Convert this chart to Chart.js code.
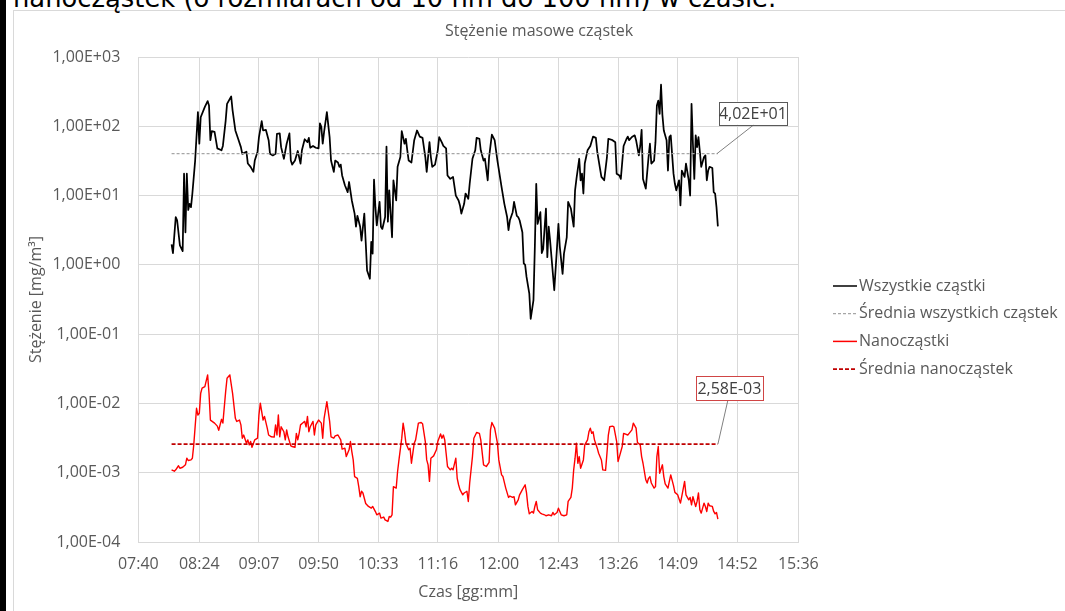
<!DOCTYPE html>
<html lang="pl">
<head>
<meta charset="utf-8">
<title>Stężenie masowe cząstek</title>
<script src="https://cdn.jsdelivr.net/npm/chart.js@4.4.1/dist/chart.umd.min.js"></script>
<style>
  html, body { margin: 0; padding: 0; background: #fff; width: 1065px; height: 611px; overflow: hidden; }
  #bar { position: absolute; left: 0; top: 0; width: 6px; height: 611px; background: #000; }
  #frame { position: absolute; left: 13px; top: 10px; right: 0; bottom: 0; border-left: 1px solid #d9d9d9; border-top: 1px solid #d9d9d9; }
  #heading { position: absolute; left: 13px; top: -15px; font: 25.8px/26px "DejaVu Sans", sans-serif; color: #000; white-space: nowrap; }
  #wrap { position: absolute; left: 0; top: 0; width: 1065px; height: 611px; }
</style>
</head>
<body>
<div id="bar"></div>
<div id="frame"></div>
<div id="heading">nanocząstek (o rozmiarach od 10 nm do 100 nm) w czasie.</div>
<div id="wrap"><canvas id="chart" width="1065" height="611"></canvas></div>
<script>
// Stężenie masowe cząstek – wszystkie cząstki vs nanocząstki (skala log)
const chartTitle = "Stężenie masowe cząstek";
const xTitle = "Czas [gg:mm]";
const yTitle = "Stężenie [mg/m³]";
const seriesNames = ["Wszystkie cząstki", "Średnia wszystkich cząstek", "Nanocząstki", "Średnia nanocząstek"];

const xTickLabels = ["07:40", "08:24", "09:07", "09:50", "10:33", "11:16", "12:00", "12:43", "13:26", "14:09", "14:52", "15:36"];
const yTickValues = [1e-4, 1e-3, 1e-2, 1e-1, 1e0, 1e1, 1e2, 1e3];

const avgAll = 40.2;
const avgNano = 2.58e-3;

// wszystkie cząstki [mg/m3]
const timesAll = [
  "08:04","08:05","08:07","08:08","08:10","08:12","08:13","08:14","08:15","08:16",
  "08:17","08:18","08:19","08:21","08:23","08:24","08:25","08:28","08:30","08:31",
  "08:32","08:33","08:35","08:36","08:37","08:40","08:41","08:43","08:44","08:47",
  "08:48","08:50","08:52","08:54","08:55","08:58","08:59","09:01","09:03","09:04",
  "09:06","09:07","09:09","09:10","09:12","09:14","09:15","09:17","09:19","09:20",
  "09:22","09:23","09:25","09:27","09:29","09:30","09:31","09:33","09:35","09:37",
  "09:38","09:40","09:42","09:43","09:44","09:46","09:48","09:50","09:51","09:52",
  "09:53","09:54","09:56","09:58","09:59","10:01","10:02","10:04","10:05","10:06",
  "10:07","10:09","10:11","10:12","10:14","10:16","10:17","10:18","10:20","10:21",
  "10:23","10:24","10:25","10:27","10:28","10:29","10:30","10:31","10:32","10:34",
  "10:35","10:36","10:38","10:39","10:40","10:41","10:43","10:44","10:46","10:47",
  "10:49","10:50","10:52","10:53","10:54","10:55","10:57","10:59","11:01","11:03",
  "11:05","11:07","11:08","11:10","11:11","11:12","11:14","11:16","11:17","11:19",
  "11:20","11:22","11:23","11:25","11:27","11:29","11:31","11:32","11:33","11:35",
  "11:36","11:38","11:39","11:41","11:43","11:44","11:46","11:47","11:49","11:50",
  "11:52","11:53","11:55","11:57","11:59","12:02","12:04","12:06","12:07","12:08",
  "12:10","12:11","12:13","12:14","12:15","12:17","12:18","12:19","12:20","12:22",
  "12:23","12:25","12:26","12:27","12:28","12:30","12:31","12:32","12:34","12:35",
  "12:36","12:37","12:38","12:40","12:42","12:43","12:44","12:46","12:47","12:49",
  "12:50","12:52","12:54","12:55","12:56","12:58","12:59","13:00","13:01","13:02",
  "13:04","13:06","13:08","13:10","13:11","13:13","13:14","13:16","13:18","13:19",
  "13:22","13:24","13:25","13:27","13:28","13:30","13:32","13:33","13:34","13:36",
  "13:38","13:39","13:41","13:42","13:43","13:44","13:46","13:48","13:49","13:50",
  "13:52","13:53","13:54","13:55","13:56","13:57","13:58","13:59","14:01","14:02",
  "14:03","14:04","14:06","14:07","14:08","14:10","14:11","14:12","14:14","14:15",
  "14:17","14:18","14:19","14:20","14:21","14:22","14:23","14:24","14:25","14:26",
  "14:28","14:29","14:30","14:31","14:32","14:34","14:35","14:36","14:37","14:38"
];
const valuesAll = [
  1.98, 1.48, 4.9, 4.4, 1.91, 1.58, 20.7, 2.95, 20.7, 6.2,
  7.6, 6.8, 10.7, 32, 160, 56, 135, 191, 231, 200,
  63, 85, 83, 63, 48, 45, 52, 120, 211, 269,
  170, 87, 66, 50, 40, 43, 29, 26, 22, 32,
  43, 69, 119, 87, 89, 63, 40, 38, 40, 78,
  79, 50, 34, 56, 79, 32, 28, 32, 44, 29,
  45, 65, 59, 68, 49, 52, 49, 48, 110, 98,
  56, 83, 160, 69, 32, 22, 32, 30, 26, 28,
  19.5, 14.1, 11.2, 15.7, 8.5, 5.5, 3.55, 5.1, 3.55, 2.24,
  5.5, 2.14, 0.83, 0.63, 2.14, 1.45, 17, 6.8, 3.7, 8.1,
  3.55, 3.3, 4.9, 51, 4.2, 11.9, 2.5, 16.6, 8.5, 26,
  36, 85, 56, 66, 45, 32, 30, 63, 87, 71,
  68, 36, 22, 59, 36, 26, 28, 45, 70, 58,
  52, 48, 19.5, 17.4, 18.6, 10, 8.5, 7.2, 5.5, 7.6,
  10.7, 9.0, 14.8, 34, 45, 68, 66, 45, 32, 34,
  16.6, 36, 76, 63, 32, 13.2, 7.6, 4.9, 3.16, 4.4,
  5.75, 8.1, 5.1, 4.9, 4.4, 2.95, 1.05, 1.0, 0.67, 0.385,
  0.166, 0.31, 1.82, 14.8, 3.9, 5.75, 1.48, 1.7, 6.5, 1.29,
  3.55, 2.24, 1.29, 0.43, 1.82, 3.9, 1.82, 0.74, 1.45, 2.5,
  8.1, 6.5, 3.55, 11.9, 17.4, 34, 16.6, 20.7, 10.7, 29,
  45, 52, 71, 68, 43, 24.5, 18.6, 16.6, 36, 66,
  63, 59, 20.7, 19.5, 17.4, 52, 65, 71, 63, 70,
  74, 63, 38, 52, 89, 17.4, 12.6, 36, 56, 29,
  32, 59, 200, 234, 151, 398, 145, 87, 63, 23,
  70, 74, 20.7, 14.8, 11.9, 16.6, 7.2, 23, 18.6, 29,
  16.6, 10, 211, 56, 17.4, 74, 50, 70, 43, 26,
  36, 38, 16.6, 23, 26, 25, 11.2, 10.7, 6.8, 3.6
];

// nanocząstki [mg/m3]
const timesNano = [
  "08:04","08:06","08:07","08:09","08:10","08:12","08:14","08:15","08:16","08:18",
  "08:19","08:20","08:22","08:23","08:24","08:25","08:26","08:28","08:30","08:31",
  "08:32","08:35","08:37","08:38","08:40","08:41","08:43","08:44","08:46","08:48",
  "08:50","08:51","08:53","08:54","08:55","08:56","08:58","08:59","09:00","09:01",
  "09:02","09:04","09:06","09:07","09:08","09:10","09:11","09:13","09:14","09:16",
  "09:18","09:19","09:20","09:21","09:22","09:23","09:25","09:26","09:27","09:28",
  "09:30","09:31","09:33","09:34","09:35","09:36","09:37","09:39","09:40","09:41",
  "09:42","09:43","09:44","09:46","09:47","09:48","09:50","09:52","09:53","09:54",
  "09:56","09:58","09:59","10:01","10:02","10:04","10:06","10:07","10:09","10:10",
  "10:12","10:13","10:14","10:15","10:16","10:18","10:19","10:20","10:21","10:22",
  "10:24","10:26","10:28","10:29","10:31","10:32","10:34","10:35","10:37","10:38",
  "10:40","10:41","10:42","10:43","10:44","10:46","10:47","10:48","10:50","10:51",
  "10:52","10:53","10:55","10:56","10:57","10:59","11:00","11:02","11:04","11:05",
  "11:07","11:08","11:09","11:10","11:11","11:13","11:15","11:16","11:18","11:19",
  "11:20","11:21","11:22","11:23","11:25","11:26","11:27","11:29","11:30","11:31",
  "11:32","11:34","11:35","11:37","11:38","11:39","11:41","11:42","11:44","11:46",
  "11:47","11:49","11:51","11:53","11:54","11:55","11:57","11:59","12:00","12:02",
  "12:03","12:05","12:07","12:08","12:10","12:11","12:12","12:14","12:15","12:17",
  "12:19","12:20","12:21","12:22","12:24","12:25","12:26","12:27","12:28","12:30",
  "12:31","12:33","12:34","12:36","12:38","12:39","12:40","12:42","12:43","12:45",
  "12:47","12:49","12:50","12:52","12:53","12:54","12:55","12:56","12:57","12:58",
  "12:59","13:01","13:02","13:04","13:05","13:06","13:07","13:08","13:09","13:11",
  "13:12","13:14","13:15","13:17","13:18","13:19","13:20","13:22","13:23","13:25",
  "13:26","13:27","13:29","13:30","13:31","13:33","13:34","13:36","13:37","13:39",
  "13:40","13:42","13:43","13:44","13:46","13:47","13:48","13:49","13:50","13:52",
  "13:53","13:54","13:55","13:56","13:58","13:59","14:00","14:02","14:03","14:04",
  "14:06","14:07","14:09","14:11","14:12","14:14","14:15","14:17","14:18","14:19",
  "14:20","14:22","14:23","14:24","14:25","14:26","14:28","14:29","14:30","14:31",
  "14:32","14:34","14:35","14:36","14:37","14:38"
];
const valuesNano = [
  1.10e-3, 1.05e-3, 1.10e-3, 1.26e-3, 1.16e-3, 1.20e-3, 1.30e-3, 1.62e-3, 1.50e-3, 1.53e-3,
  1.62e-3, 2.52e-3, 8.5e-3, 6.8e-3, 7.2e-3, 1.40e-2, 1.66e-2, 1.75e-2, 2.58e-2, 1.40e-2,
  5.75e-3, 5.2e-3, 4.7e-3, 4.1e-3, 5.9e-3, 5.2e-3, 1.48e-2, 2.31e-2, 2.58e-2, 1.40e-2,
  6.1e-3, 5.5e-3, 5.75e-3, 4.9e-3, 3.15e-3, 3.5e-3, 2.67e-3, 2.98e-3, 2.52e-3, 2.82e-3,
  2.33e-3, 2.98e-3, 3.15e-3, 6.8e-3, 1.01e-2, 5.75e-3, 6.5e-3, 4.4e-3, 3.5e-3, 3.3e-3,
  3.26e-3, 4.9e-3, 3.5e-3, 6.8e-3, 3.3e-3, 4.6e-3, 3.9e-3, 2.98e-3, 4.15e-3, 3.3e-3,
  2.44e-3, 2.39e-3, 2.33e-3, 3.7e-3, 2.98e-3, 3.7e-3, 4.9e-3, 5.3e-3, 5.5e-3, 4.6e-3,
  6.5e-3, 3.9e-3, 4.6e-3, 5.5e-3, 3.5e-3, 4.9e-3, 5.75e-3, 5.2e-3, 3.15e-3, 6.1e-3,
  1.06e-2, 5.5e-3, 3.3e-3, 3.15e-3, 3.4e-3, 3.5e-3, 2.98e-3, 2.19e-3, 2.26e-3, 1.71e-3,
  2.14e-3, 2.82e-3, 2.02e-3, 1.53e-3, 8.8e-4, 8.3e-4, 6.3e-4, 4.5e-4, 5.4e-4, 5.1e-4,
  3.6e-4, 3.26e-4, 3.08e-4, 3.26e-4, 2.75e-4, 2.47e-4, 2.61e-4, 2.21e-4, 2.29e-4, 2.09e-4,
  1.98e-4, 2.33e-4, 2.29e-4, 2.47e-4, 6.3e-4, 6.0e-4, 1.04e-3, 1.53e-3, 3.15e-3, 5.2e-3,
  3.9e-3, 2.67e-3, 2.14e-3, 2.26e-3, 1.37e-3, 2.67e-3, 2.98e-3, 5.2e-3, 5.3e-3, 5.1e-3,
  2.82e-3, 1.53e-3, 1.30e-3, 7.5e-4, 1.62e-3, 1.75e-3, 2.14e-3, 2.82e-3, 3.63e-3, 3.15e-3,
  3.5e-3, 2.98e-3, 1.91e-3, 1.23e-3, 1.10e-3, 1.16e-3, 1.10e-3, 1.62e-3, 8.3e-4, 6.7e-4,
  5.7e-4, 4.8e-4, 5.1e-4, 5.4e-4, 3.85e-4, 7.1e-4, 1.71e-3, 3.15e-3, 3.8e-3, 3.7e-3,
  2.98e-3, 1.30e-3, 1.23e-3, 1.41e-3, 4.15e-3, 5.3e-3, 4.4e-3, 2.67e-3, 1.53e-3, 9.3e-4,
  8.8e-4, 6.0e-4, 4.4e-4, 4.6e-4, 4.4e-4, 4.5e-4, 3.44e-4, 4.06e-4, 4.8e-4, 5.7e-4,
  6.7e-4, 5.1e-4, 3.26e-4, 2.55e-4, 2.75e-4, 2.61e-4, 3.26e-4, 3.85e-4, 2.92e-4, 2.61e-4,
  2.55e-4, 2.47e-4, 2.39e-4, 2.47e-4, 2.39e-4, 2.67e-4, 2.47e-4, 2.67e-4, 3.08e-4, 2.47e-4,
  2.39e-4, 2.47e-4, 3.85e-4, 4.4e-4, 6.0e-4, 1.10e-3, 1.62e-3, 2.67e-3, 1.37e-3, 1.71e-3,
  1.16e-3, 1.53e-3, 2.52e-3, 2.98e-3, 3.9e-3, 4.4e-3, 3.7e-3, 3.9e-3, 2.98e-3, 2.26e-3,
  1.91e-3, 1.53e-3, 1.10e-3, 1.08e-3, 1.91e-3, 3.5e-3, 4.6e-3, 4.7e-3, 4.6e-3, 2.82e-3,
  1.45e-3, 1.71e-3, 2.39e-3, 3.7e-3, 3.63e-3, 3.5e-3, 3.7e-3, 4.15e-3, 5.2e-3, 4.4e-3,
  2.73e-3, 2.52e-3, 1.71e-3, 1.37e-3, 7.9e-4, 7.1e-4, 8.3e-4, 8.8e-4, 7.1e-4, 6.0e-4,
  6.3e-4, 1.71e-3, 2.39e-3, 9.8e-4, 1.30e-3, 8.8e-4, 6.9e-4, 6.0e-4, 7.5e-4, 9.3e-4,
  6.5e-4, 5.2e-4, 4.8e-4, 3.64e-4, 4.6e-4, 7.5e-4, 4.8e-4, 4.06e-4, 4.4e-4, 3.44e-4,
  4.5e-4, 3.26e-4, 3.85e-4, 5.1e-4, 2.92e-4, 2.61e-4, 3.64e-4, 3.26e-4, 2.76e-4, 3.64e-4,
  3.33e-4, 3.26e-4, 2.76e-4, 2.55e-4, 2.67e-4, 2.14e-4
];

if (timesAll.length !== valuesAll.length || timesNano.length !== valuesNano.length) {
  throw new Error("length mismatch: " + timesAll.length + "/" + valuesAll.length + " " + timesNano.length + "/" + valuesNano.length);
}

// "hh:mm" -> minuty od północy
function toMin(t) {
  const p = t.split(":");
  return Number(p[0]) * 60 + Number(p[1]);
}

// format jak w Excelu: 4,02E+01
function excelSci(v) {
  const e = Math.floor(Math.log10(v) + 1e-9);
  const m = v / Math.pow(10, e);
  return m.toFixed(2).replace(".", ",") + "E" + (e < 0 ? "-" : "+") + String(Math.abs(e)).padStart(2, "0");
}

function toPoints(times, values) {
  return times.map((t, i) => ({ x: toMin(t), y: values[i] }));
}

function avgLine(times, v) {
  return [{ x: toMin(times[0]), y: v }, { x: toMin(times[times.length - 1]), y: v }];
}

const legendItems = [
  { color: "#000000", dash: [], width: 1.5 },
  { color: "#a6a6a6", dash: [3, 2], width: 1.25 },
  { color: "#ff0000", dash: [], width: 1.5 },
  { color: "#c00000", dash: [4, 2], width: 1.75 }
];

function drawCallout(ctx, ax, ay, text, bx, by, w, h, border, lx) {
  ctx.setLineDash([]);
  ctx.lineWidth = 1;
  ctx.strokeStyle = "#808080";
  ctx.beginPath();
  ctx.moveTo(lx, by + h);
  ctx.lineTo(ax, ay);
  ctx.stroke();
  ctx.fillStyle = "#ffffff";
  ctx.fillRect(bx, by, w, h);
  ctx.strokeStyle = border;
  ctx.strokeRect(Math.round(bx) + 0.5, Math.round(by) + 0.5, w, h);
  ctx.fillStyle = "#404040";
  ctx.textAlign = "center";
  ctx.textBaseline = "middle";
  ctx.fillText(text, bx + w / 2, by + h / 2 + 1);
}

const extras = {
  id: "extras",
  afterDatasetsDraw(chart) {
    const { ctx } = chart;
    const xs = chart.scales.x;
    const ys = chart.scales.y;
    ctx.save();

    // title
    ctx.font = '16px "Open Sans"';
    ctx.fillStyle = "#595959";
    ctx.textAlign = "center";
    ctx.textBaseline = "middle";
    ctx.fillText(chartTitle, 539, 31);

    // legend
    ctx.textAlign = "left";
    legendItems.forEach((it, i) => {
      const ly = 286 + i * 27.7;
      ctx.strokeStyle = it.color;
      ctx.lineWidth = it.width;
      ctx.setLineDash(it.dash);
      ctx.beginPath();
      ctx.moveTo(833, ly);
      ctx.lineTo(857, ly);
      ctx.stroke();
      ctx.fillStyle = "#595959";
      ctx.fillText(seriesNames[i], 859, ly);
    });

    // data labels on the averages
    const endAll = xs.getPixelForValue(toMin(timesAll[timesAll.length - 1]));
    const yAll = ys.getPixelForValue(avgAll);
    drawCallout(ctx, endAll - 1, yAll, excelSci(avgAll), endAll + 1, yAll - 52, 68, 23, "#595959", endAll + 36);

    const endNano = xs.getPixelForValue(toMin(timesNano[timesNano.length - 1]));
    const yNano = ys.getPixelForValue(avgNano);
    drawCallout(ctx, endNano, yNano, excelSci(avgNano), endNano - 22, yNano - 68, 67, 24, "#d04545", endNano + 10);

    ctx.restore();
  }
};

const tickFont = { family: "Open Sans", size: 16 };

new Chart(document.getElementById("chart").getContext("2d"), {
  type: "line",
  data: {
    datasets: [
      {
        label: seriesNames[1],
        data: avgLine(timesAll, avgAll),
        borderColor: "#a6a6a6",
        borderWidth: 1.25,
        borderDash: [3, 2],
        order: 0,
      },
      {
        label: seriesNames[3],
        data: avgLine(timesNano, avgNano),
        borderColor: "#c00000",
        borderWidth: 1.75,
        borderDash: [4, 2],
        order: 0,
      },
      {
        label: seriesNames[0],
        data: toPoints(timesAll, valuesAll),
        borderColor: "#000000",
        borderWidth: 1.75,
        order: 1,
      },
      {
        label: seriesNames[2],
        data: toPoints(timesNano, valuesNano),
        borderColor: "#ff0000",
        borderWidth: 1.4,
        order: 1,
      },
    ],
  },
  options: {
    responsive: false,
    animation: false,
    layout: { padding: { left: 13, top: 57, right: 266.7, bottom: 0 } },
    elements: {
      point: { radius: 0, hoverRadius: 0 },
      line: { tension: 0, borderJoinStyle: "round", fill: false },
    },
    plugins: {
      legend: { display: false },
      tooltip: { enabled: false },
      title: { display: false },
    },
    scales: {
      x: {
        type: "linear",
        min: toMin(xTickLabels[0]),
        max: toMin(xTickLabels[xTickLabels.length - 1]),
        afterBuildTicks: (scale) => {
          scale.ticks = xTickLabels.map((l) => ({ value: toMin(l) }));
        },
        afterFit: (scale) => { scale.height = 69; },
        ticks: {
          autoSkip: false,
          maxRotation: 0,
          minRotation: 0,
          padding: 13,
          color: "#595959",
          font: tickFont,
          callback: (v, i) => xTickLabels[i],
        },
        grid: { color: "#d9d9d9", drawTicks: false },
        border: { color: "#d9d9d9" },
        title: {
          display: true,
          text: xTitle,
          color: "#595959",
          font: tickFont,
          padding: { top: 0, bottom: 9 },
        },
      },
      y: {
        type: "logarithmic",
        min: yTickValues[0],
        max: yTickValues[yTickValues.length - 1],
        afterBuildTicks: (scale) => {
          scale.ticks = yTickValues.map((v) => ({ value: v }));
        },
        afterFit: (scale) => { scale.width = 125.3; },
        ticks: {
          padding: 18,
          color: "#595959",
          font: tickFont,
          callback: (v) => excelSci(v),
        },
        grid: { color: "#d9d9d9", drawTicks: false },
        border: { color: "#d9d9d9" },
        title: {
          display: true,
          text: yTitle,
          color: "#595959",
          font: tickFont,
          padding: { top: 14, bottom: 0 },
        },
      },
    },
  },
  plugins: [extras],
});
</script>
</body>
</html>
